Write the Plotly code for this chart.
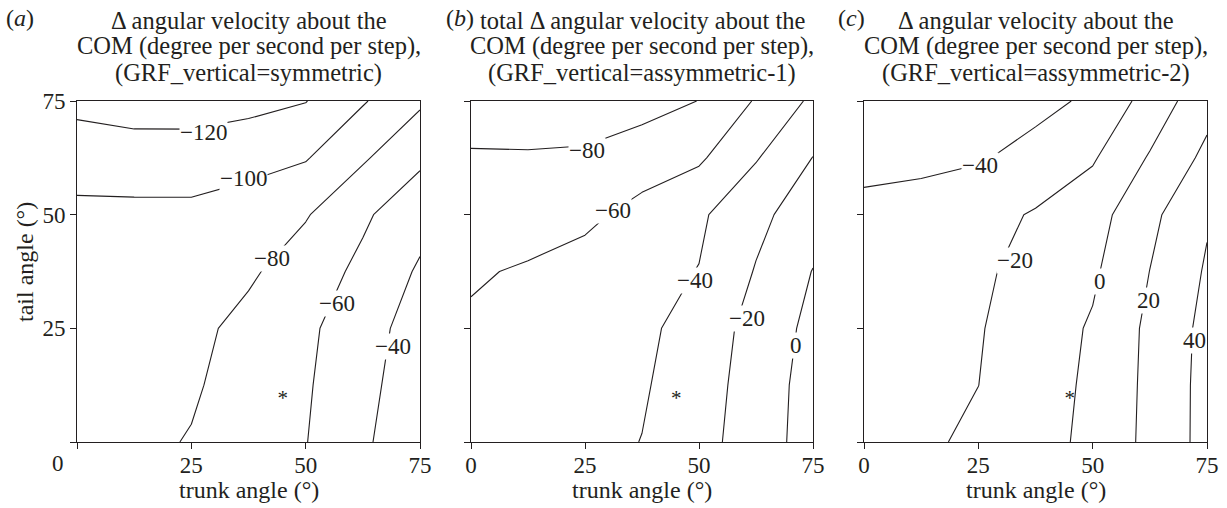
import plotly.graph_objects as go

# ---------------- data ----------------
trunk_angle = [0, 12.5, 25, 37.5, 50, 62.5, 75]   # x grid (deg)
tail_angle = [0, 12.5, 25, 37.5, 50, 62.5, 75]    # y grid (deg)

# rows follow tail_angle (bottom -> top), columns follow trunk_angle
z_sym = [
    [-88, -84, -79, -69.7, -60.6, -43.2, -25.2],
    [-90, -86, -82.2, -72.2, -62.1, -45.9, -28.0],
    [-92, -88.5, -85, -74.4, -63.8, -48.6, -30.7],
    [-93, -91, -88, -82.9, -69.9, -55.6, -37.5],
    [-95, -95, -95, -90.5, -81.5, -63, -47],
    [-109.7, -111.2, -111.3, -106.6, -101.4, -82.4, -63.8],
    [-125, -128.5, -128.5, -126, -120.6, -101.7, -83],
]
z_asym1 = [
    [-53, -50.5, -46.5, -39.6, -26.6, -10.5, 9.0],
    [-55, -52.5, -48, -42.2, -28.3, -11.9, 8.5],
    [-57.5, -55, -51, -45.1, -30.2, -13.9, 5.6],
    [-62, -58, -52, -45.6, -39.5, -18.8, 0.6],
    [-70.6, -68.5, -64.5, -53.4, -43.1, -25.1, -9.0],
    [-78.6, -78.6, -77.7, -70.2, -62.9, -41.4, -19.6],
    [-87, -88.5, -88.5, -87, -79.7, -58.4, -36.3],
]
z_asym2 = [
    [-30, -24, -15.6, -7, 4.5, 25.1, 46.3],
    [-31, -26, -20.1, -8.6, 3.5, 24.6, 46.3],
    [-33, -27.2, -21.3, -10, 2, 24, 45.4],
    [-36.6, -31, -23.3, -13.4, -3, 20.2, 42.1],
    [-38.8, -36.5, -27, -18.2, -8, 15.2, 38],
    [-41.3, -42, -41.7, -34, -22, 1.7, 24.7],
    [-43.5, -45, -46, -45, -37, -12.3, 13],
]

levels_sym = (-120, -40, 20)
levels_asym1 = (-80, 0, 20)
levels_asym2 = (-40, 40, 20)

# observed posture (asterisk)
posture_trunk = [45]
posture_tail = [9.2]

tick_vals = [0, 25, 50, 75]
tick_text = ["0", "25", "50", "75"]

titles = [
    ["Δ angular velocity about the", "COM (degree per second per step),", "(GRF_vertical=symmetric)"],
    ["total Δ angular velocity about the", "COM (degree per second per step),", "(GRF_vertical=assymmetric-1)"],
    ["Δ angular velocity about the", "COM (degree per second per step),", "(GRF_vertical=assymmetric-2)"],
]
panel_tags = ["(<i>a</i>)", "(<i>b</i>)", "(<i>c</i>)"]

# contour label text and placement (layout, not data)
label_text = [
    ["−120", "−100", "−80", "−60", "−40"],
    ["−80", "−60", "−40", "−20", "0"],
    ["−40", "−20", "0", "20", "40"],
]
label_pos = [
    [(27.6, 68.1), (36.4, 58.0), (42.6, 40.4), (56.9, 30.5), (69.2, 21.0)],
    [(25.4, 64.2), (31.2, 51.0), (49.1, 35.6), (60.6, 27.2), (71.3, 21.3)],
    [(25.4, 60.9), (33.0, 40.0), (51.5, 35.3), (62.3, 31.1), (72.2, 22.4)],
]

# ---------------- figure ----------------
W, H = 1227, 508
FONT = "Liberation Serif, Times New Roman, serif"
INK = "#231f20"

x_domains = [[77 / W, 420 / W], [471 / W, 813 / W], [864 / W, 1207 / W]]
y_domain = [1 - 442 / H, 1 - 101 / H]

fig = go.Figure()
zs = [z_sym, z_asym1, z_asym2]
levels = [levels_sym, levels_asym1, levels_asym2]
annotations = []

for i in range(3):
    xa = "x" if i == 0 else f"x{i+1}"
    ya = "y" if i == 0 else f"y{i+1}"
    start, end, size = levels[i]
    fig.add_trace(go.Contour(
        x=trunk_angle, y=tail_angle, z=zs[i],
        contours=dict(coloring="none", start=start, end=end, size=size, showlabels=False),
        line=dict(color=INK, width=1.1, smoothing=0),
        showscale=False, hoverinfo="skip",
        xaxis=xa, yaxis=ya,
    ))
    fig.add_trace(go.Scatter(
        x=posture_trunk, y=posture_tail, mode="text", text=["*"],
        textfont=dict(family=FONT, size=21, color=INK),
        textposition="middle center",
        hoverinfo="skip", showlegend=False, xaxis=xa, yaxis=ya,
    ))
    for t, (lx, ly) in zip(label_text[i], label_pos[i]):
        annotations.append(dict(
            x=lx, y=ly, xref=xa, yref=ya, text=t, showarrow=False,
            font=dict(family=FONT, size=23, color=INK),
            bgcolor="white", borderpad=0, xanchor="center", yanchor="middle",
        ))

    axis_common = dict(
        range=[0, 75], tickvals=tick_vals, showgrid=False, zeroline=False,
        showline=True, mirror=True, linecolor=INK, linewidth=1,
        ticks="outside", ticklen=6, tickwidth=1, tickcolor=INK,
        tickfont=dict(family=FONT, size=23, color=INK),
        fixedrange=True, automargin=False,
    )
    xkey = "xaxis" if i == 0 else f"xaxis{i+1}"
    ykey = "yaxis" if i == 0 else f"yaxis{i+1}"
    xt = list(tick_text)
    if i == 0:
        xt[0] = ""
    fig.update_layout({
        xkey: dict(axis_common, domain=x_domains[i], anchor=ya, ticktext=xt,
                   ticklabelstandoff=-4),
        ykey: dict(axis_common, domain=y_domain, anchor=xa,
                   ticktext=[""] + tick_text[1:], showticklabels=(i == 0)),
    })

    cx = (x_domains[i][0] + x_domains[i][1]) / 2
    for k, line in enumerate(titles[i]):
        annotations.append(dict(
            x=cx, y=1 - (20 + 26.3 * k) / H, xref="paper", yref="paper",
            text=line, showarrow=False, xanchor="center", yanchor="middle",
            font=dict(family=FONT, size=24.5, color=INK),
        ))
    annotations.append(dict(
        x=cx, y=1 - 490 / H, xref="paper", yref="paper", text="trunk angle (°)",
        showarrow=False, xanchor="center", yanchor="middle",
        font=dict(family=FONT, size=24, color=INK),
    ))

tag_x = [20, 460, 851]
for i in range(3):
    annotations.append(dict(
        x=tag_x[i] / W, y=1 - 18 / H, xref="paper", yref="paper", text=panel_tags[i],
        showarrow=False, xanchor="center", yanchor="middle",
        font=dict(family=FONT, size=24, color=INK),
    ))

annotations.append(dict(
    x=25 / W, y=1 - 262 / H, xref="paper", yref="paper", text="tail angle (°)",
    textangle=-90, showarrow=False, xanchor="center", yanchor="middle",
    font=dict(family=FONT, size=24, color=INK),
))
annotations.append(dict(
    x=58 / W, y=1 - 463 / H, xref="paper", yref="paper", text="0",
    showarrow=False, xanchor="center", yanchor="middle",
    font=dict(family=FONT, size=23, color=INK),
))

fig.update_layout(
    width=W, height=H, autosize=False,
    margin=dict(l=0, r=0, t=0, b=0, pad=0),
    paper_bgcolor="white", plot_bgcolor="white",
    showlegend=False, annotations=annotations,
)

fig.write_html("out.html")
